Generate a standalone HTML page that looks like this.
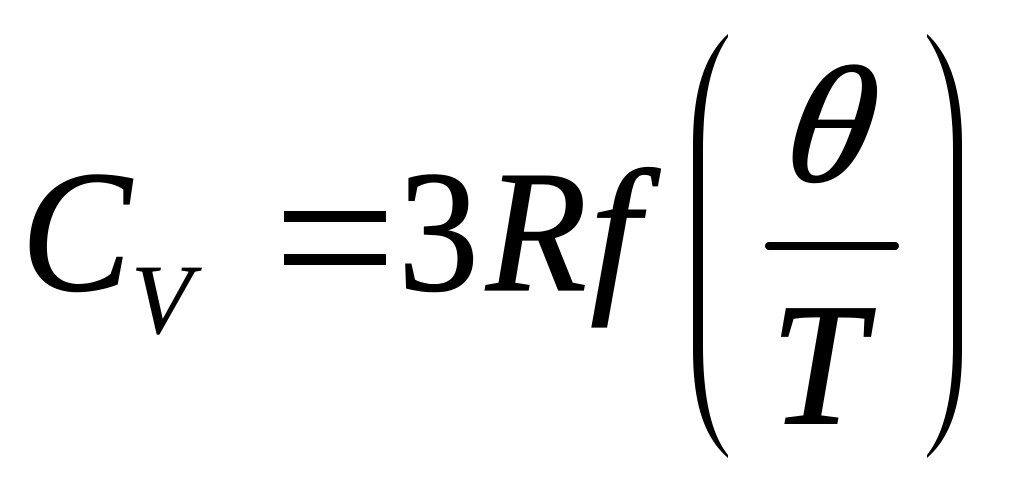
<!DOCTYPE html>
<html>
<head>
<meta charset="utf-8">
<style>
html,body{margin:0;padding:0;background:#fff;width:1015px;height:493px;overflow:hidden}
svg{display:block}
text{font-family:"Liberation Serif",serif;fill:#000;stroke:#000;stroke-width:1.2px}
</style>
</head>
<body>
<svg width="1015" height="493" viewBox="0 0 1015 493" xmlns="http://www.w3.org/2000/svg">
<text transform="translate(21 290) scale(.95 1)" font-size="174" font-style="italic">C</text>
<text x="131" y="333" font-size="100" font-style="italic" style="stroke-width:.3px">V</text>
<rect x="284" y="211" width="102" height="11" fill="#000"/>
<rect x="284" y="254" width="102" height="11" fill="#000"/>
<text transform="translate(398 290) scale(.93 1)" font-size="174">3</text>
<text transform="translate(486 290) scale(.95 1)" font-size="174" font-style="italic">R</text>
<text transform="translate(590 290) scale(1.03 1)" font-size="174" font-style="italic">f</text>
<text transform="translate(780 181) skewX(-9) scale(1.07 1)" font-size="166" font-style="italic">θ</text>
<rect x="765" y="242" width="134" height="8" rx="4" fill="#000"/>
<text transform="translate(771 423) scale(.97 1)" font-size="174" font-style="italic" style="stroke-width:2px">T</text>
<path d="M728 34 C705 55 693 90 693 145 L693 350 C693 405 705 438 728 458 L728 455 C712 435 703 400 703 345 L703 150 C703 95 712 60 728 37 Z" fill="#000"/>
<path d="M927 34 C950 55 962 90 962 145 L962 350 C962 405 950 438 927 458 L927 455 C943 435 953 400 953 345 L953 150 C953 95 943 60 927 37 Z" fill="#000"/>
</svg>
</body>
</html>
